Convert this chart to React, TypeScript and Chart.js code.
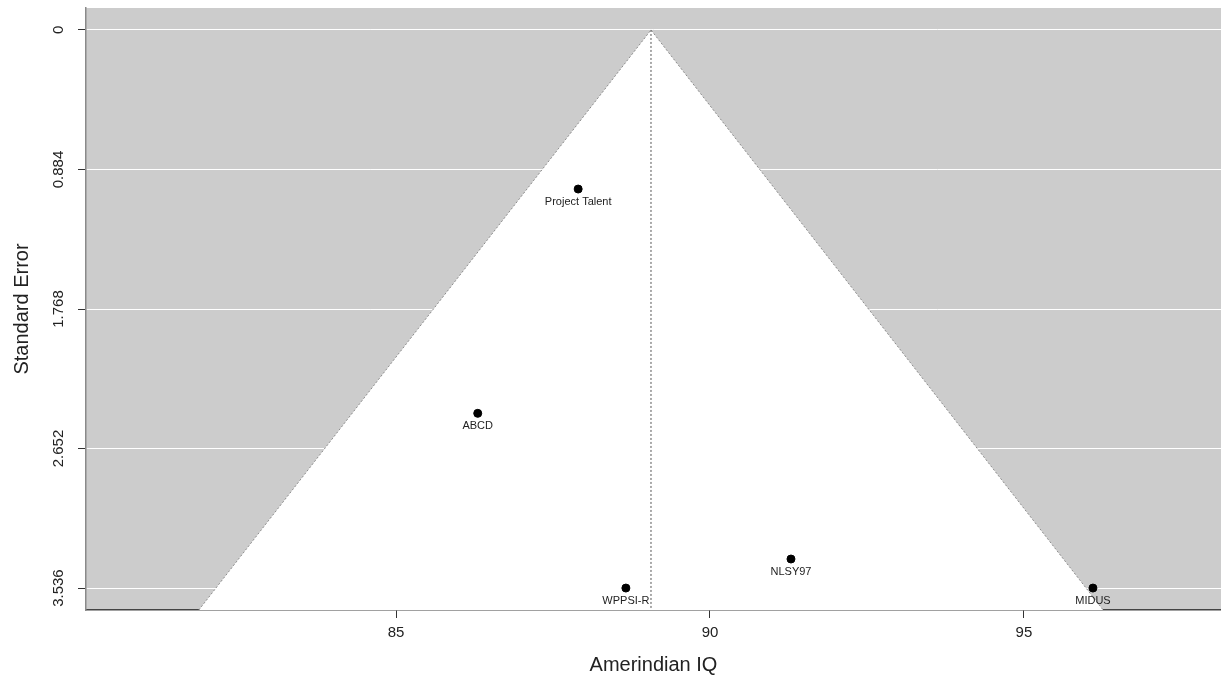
import React, { useEffect, useRef } from "react";
import { Chart, registerables } from "chart.js";

Chart.register(...registerables);

// ---- data ----
const studyNames = ["Project Talent", "ABCD", "WPPSI-R", "NLSY97", "MIDUS"];
const studyIQ = [87.9, 86.3, 88.66, 91.29, 96.1];
const studySE = [1.008, 2.429, 3.536, 3.352, 3.536];
const pooledEstimate = 89.06;
const funnelZ = 1.96;
const xTickValues = [85, 90, 95];
const yTickValues = [0, 0.884, 1.768, 2.652, 3.536];
const xRange = [80.06, 98.14];
const yRange = [-0.139, 3.675];

const FONT = "'Liberation Sans', Arial, Helvetica, sans-serif";

export default function App() {
  const canvasRef = useRef<HTMLCanvasElement | null>(null);

  useEffect(() => {
    const canvas = canvasRef.current;
    if (!canvas) return;

    const yBottom = yRange[1];
    const funnelPts = [
      { x: pooledEstimate - funnelZ * yBottom, y: yBottom },
      { x: pooledEstimate, y: 0 },
      { x: pooledEstimate + funnelZ * yBottom, y: yBottom },
    ];
    const centerLine = [
      { x: pooledEstimate, y: 0 },
      { x: pooledEstimate, y: yBottom },
    ];
    const points = studyIQ.map((x, i) => ({ x, y: studySE[i] }));

    const bgPlugin = {
      id: "bgPlugin",
      beforeDraw(chart: any) {
        const { ctx, chartArea } = chart;
        ctx.save();
        ctx.fillStyle = "#cccccc";
        ctx.fillRect(chartArea.left, chartArea.top, chartArea.right - chartArea.left, chartArea.bottom - chartArea.top);
        ctx.restore();
      },
    };

    const labelPlugin = {
      id: "labelPlugin",
      afterDatasetsDraw(chart: any) {
        const { ctx } = chart;
        const xs = chart.scales.x;
        const ys = chart.scales.y;
        ctx.save();
        ctx.font = `11px ${FONT}`;
        ctx.fillStyle = "#222";
        ctx.textAlign = "center";
        ctx.textBaseline = "middle";
        studyNames.forEach((name, i) => {
          const px = xs.getPixelForValue(studyIQ[i]);
          const py = ys.getPixelForValue(studySE[i]);
          ctx.fillText(name, px, py + 13);
        });
        ctx.restore();
      },
    };

    const chart = new Chart(canvas, {
      type: "scatter",
      data: {
        datasets: [
          {
            type: "line",
            data: funnelPts,
            borderColor: "#8c8c8c",
            borderWidth: 1,
            borderDash: [2, 2],
            backgroundColor: "#ffffff",
            fill: "start",
            pointRadius: 0,
            tension: 0,
            order: 3,
          } as any,
          {
            type: "line",
            data: centerLine,
            borderColor: "#555",
            borderWidth: 1,
            borderDash: [2, 2],
            fill: false,
            pointRadius: 0,
            order: 2,
          } as any,
          {
            type: "scatter",
            data: points,
            backgroundColor: "#000",
            borderColor: "#000",
            pointRadius: 4,
            order: 1,
          } as any,
        ],
      },
      options: {
        animation: false,
        responsive: false,
        maintainAspectRatio: false,
        layout: { autoPadding: false, padding: { top: 8, right: 0, left: 0, bottom: 0 } },
        plugins: {
          legend: { display: false },
          tooltip: { enabled: false },
        },
        scales: {
          x: {
            type: "linear",
            min: xRange[0],
            max: xRange[1],
            z: 1,
            afterBuildTicks: (s: any) => {
              s.ticks = xTickValues.map((v) => ({ value: v }));
            },
            afterFit: (s: any) => {
              s.height = 76;
              s.paddingLeft = 0;
              s.paddingRight = 0;
            },
            grid: {
              display: true,
              drawOnChartArea: false,
              drawTicks: true,
              tickLength: 8,
              tickColor: "#333",
              tickWidth: 1,
            },
            border: { display: true, color: "#444", width: 1.5 },
            ticks: {
              color: "#222",
              font: { family: FONT, size: 15 },
              padding: 6,
              maxRotation: 0,
              autoSkip: false,
              callback: (v: any) => String(v),
            },
            title: {
              display: true,
              text: "Amerindian IQ",
              color: "#222",
              font: { family: FONT, size: 20 },
              padding: { top: 4, bottom: 9 },
            },
          },
          y: {
            type: "linear",
            reverse: true,
            min: yRange[0],
            max: yRange[1],
            afterBuildTicks: (s: any) => {
              s.ticks = yTickValues.map((v) => ({ value: v }));
            },
            afterFit: (s: any) => {
              s.width = 86;
              s.paddingTop = 0;
              s.paddingBottom = 0;
            },
            grid: {
              display: true,
              color: "#ffffff",
              lineWidth: 1,
              drawTicks: true,
              tickLength: 8,
              tickColor: "#333",
              tickWidth: 1,
            },
            border: { display: true, color: "#8a8a8a", width: 1.5 },
            ticks: {
              color: "#222",
              font: { family: FONT, size: 15 },
              padding: 0,
              minRotation: 90,
              maxRotation: 90,
              crossAlign: "center",
              autoSkip: false,
              callback: (v: any) => String(v),
            },
            title: {
              display: true,
              text: "Standard Error",
              color: "#222",
              font: { family: FONT, size: 20 },
              padding: { top: 10, bottom: 0 },
            },
          },
        },
      } as any,
      plugins: [bgPlugin, labelPlugin],
    });

    return () => chart.destroy();
  }, []);

  return (
    <div style={{ position: "fixed", left: 0, top: 0, width: 1221, height: 686, background: "#fff" }}>
      <canvas ref={canvasRef} width={1221} height={686} style={{ display: "block" }} />
    </div>
  );
}
